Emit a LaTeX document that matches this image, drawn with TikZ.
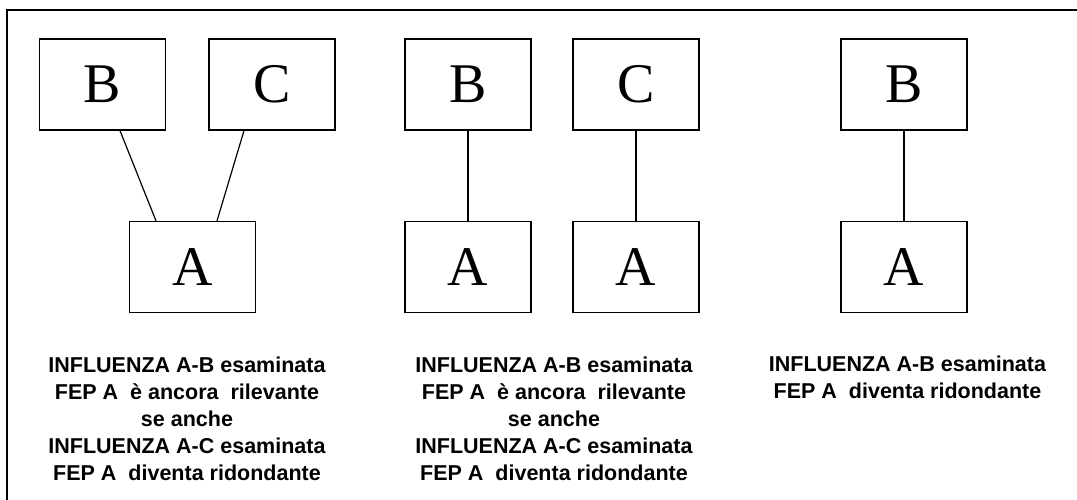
\documentclass[tikz,border=0pt]{standalone}
\usepackage{fontspec}
\setmainfont{Liberation Serif}
\setsansfont{Liberation Sans}
\begin{document}
\begin{tikzpicture}[x=1pt, y=-1pt,
    box/.style={draw, line width=1.3pt, minimum width=126pt, minimum height=91pt, inner sep=0pt, font=\fontsize{56}{60}\selectfont},
    link/.style={line width=1.2pt},
    note/.style={align=center, inner sep=0pt, font=\sffamily\bfseries\fontsize{21.5}{27}\selectfont}]
    \useasboundingbox (0,0) rectangle (1077,500);
    % Frame
    \draw [line width=2pt] (1077,10) -- (7,10) -- (7,500);
    % Boxes
    \node [box] (B1) at (102.5,84.5) {B};
    \node [box] (C1) at (272,84.5) {C};
    \node [box] (A1) at (192.5,267) {A};
    \node [box] (B2) at (468,84.5) {B};
    \node [box] (C2) at (636,84.5) {C};
    \node [box] (A2) at (468,267) {A};
    \node [box] (A3) at (636,267) {A};
    \node [box] (B3) at (904,84.5) {B};
    \node [box] (A4) at (904,267) {A};
    % Lines
    \draw [link] ([xshift=17.5pt]B1.south) -- ([xshift=-36.5pt]A1.north);
    \draw [link] ([xshift=-28pt]C1.south) -- ([xshift=24.5pt]A1.north);
    \draw [link] (B2) -- (A2);
    \draw [link] (C2) -- (A3);
    \draw [link] (B3) -- (A4);
    % Writing space
    \node [note] (T1) at (187,418.5) {INFLUENZA A-B esaminata\\FEP A~~è ancora~~rilevante\\se anche\\INFLUENZA A-C esaminata\\FEP A~~diventa ridondante};
    \node [note] (T2) at (554,418.5) {INFLUENZA A-B esaminata\\FEP A~~è ancora~~rilevante\\se anche\\INFLUENZA A-C esaminata\\FEP A~~diventa ridondante};
    \node [note] (T3) at (907.5,377.5) {INFLUENZA A-B esaminata\\FEP A~~diventa ridondante};
\end{tikzpicture}
\end{document}
